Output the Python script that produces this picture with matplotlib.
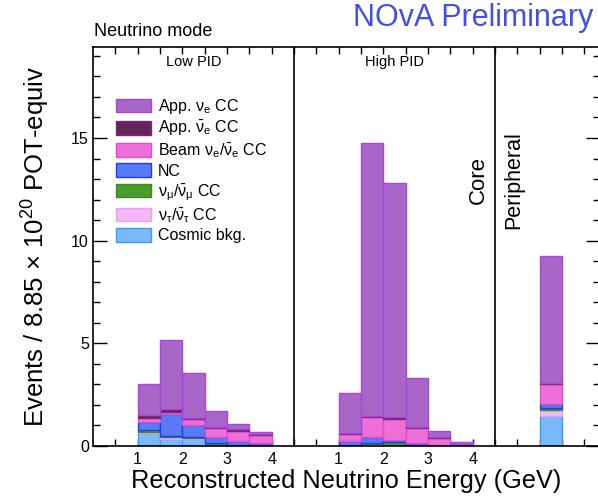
import matplotlib
matplotlib.use("Agg")
import matplotlib.pyplot as plt
import numpy as np

plt.rcParams["font.family"] = ["Liberation Sans", "DejaVu Sans"]
plt.rcParams["mathtext.fontset"] = "custom"
plt.rcParams["mathtext.rm"] = "Liberation Sans"
plt.rcParams["mathtext.it"] = "Liberation Sans"
plt.rcParams["mathtext.default"] = "regular"

# bin low edges (GeV) within each panel, bin width 0.5 GeV
pid_bin_lo = [1.0, 1.5, 2.0, 2.5, 3.0, 3.5]
periph_bin_lo = [1.0]
bin_width = 0.5

# panel offsets on the shared x axis
panel_offsets = [0.0, 4.5, 9.0]
panel_names = ["Low PID", "High PID"]

# stacked components, bottom -> top; values: 6 low PID, 6 high PID, 1 peripheral
cosmic = [0.62, 0.33, 0.32, 0.05, 0.04, 0.02,
          0.01, 0.02, 0.03, 0.01, 0.01, 0.00,
          1.46]
nutau = [0.06, 0.09, 0.05, 0.00, 0.00, 0.00,
         0.01, 0.10, 0.02, 0.01, 0.00, 0.00,
         0.30]
numu = [0.08, 0.07, 0.05, 0.08, 0.02, 0.01,
        0.02, 0.02, 0.16, 0.02, 0.00, 0.00,
        0.10]
nc = [0.40, 1.05, 0.58, 0.29, 0.17, 0.12,
      0.18, 0.28, 0.06, 0.09, 0.02, 0.00,
      0.20]
beam_nue = [0.22, 0.14, 0.32, 0.44, 0.52, 0.39,
            0.35, 1.00, 1.05, 0.75, 0.38, 0.09,
            0.97]
app_nuebar = [0.12, 0.12, 0.06, 0.05, 0.06, 0.03,
              0.05, 0.06, 0.07, 0.06, 0.01, 0.02,
              0.02]
app_nue = [1.50, 3.36, 2.19, 0.81, 0.24, 0.13,
           1.95, 13.29, 11.43, 2.39, 0.33, 0.10,
           6.22]

components = [
    ("Cosmic bkg.", cosmic, "#7cb9fb", "#3d9bf5"),
    (r"$\nu_\tau/\bar{\nu}_\tau$ CC", nutau, "#f3b9f6", "#ec9ff0"),
    (r"$\nu_\mu/\bar{\nu}_\mu$ CC", numu, "#4d9a31", "#3a8a1f"),
    ("NC", nc, "#587af5", "#1f3cf0"),
    (r"Beam $\nu_e/\bar{\nu}_e$ CC", beam_nue, "#ed6fd8", "#e54bcb"),
    (r"App. $\bar{\nu}_e$ CC", app_nuebar, "#66245e", "#7a2a70"),
    (r"App. $\nu_e$ CC", app_nue, "#a766c8", "#a745dc"),
]

x_lo = np.array(
    [panel_offsets[0] + e for e in pid_bin_lo]
    + [panel_offsets[1] + e for e in pid_bin_lo]
    + [panel_offsets[2] + e for e in periph_bin_lo]
)

fig = plt.figure(figsize=(5.98, 4.96), dpi=100)
ax = fig.add_axes([93 / 598, 1 - 446 / 496, 507 / 598, 399 / 496])

bottom = np.zeros(len(x_lo))
handles = {}
for label, vals, face, edge in components:
    vals = np.array(vals)
    h = ax.bar(x_lo, vals, width=bin_width, bottom=bottom, align="edge",
               facecolor=face, edgecolor=edge, linewidth=1.0, label=label,
               zorder=2)
    handles[label] = h
    bottom += vals

ax.set_xlim(0, 11.35)
ax.set_ylim(0, 19.43)

# panel separators
for xs in panel_offsets[1:]:
    ax.axvline(xs, color="black", linewidth=1.2, zorder=4)

# ticks
xt = np.arange(0.5, 11.01, 0.5)
ax.set_xticks(xt)
labels = []
for v in xt:
    lab = ""
    for off in panel_offsets[:2]:
        r = v - off
        if r in (1.0, 2.0, 3.0, 4.0):
            lab = f"{int(r)}"
    labels.append(lab)
ax.set_xticklabels(labels, fontsize=11.5)
ax.set_yticks([0, 5, 10, 15])
ax.set_yticks(np.arange(0, 19.5, 1), minor=True)
ax.tick_params(axis="y", which="major", direction="in", length=10, width=1,
               left=True, right=True, labelsize=11.5, pad=3)
ax.tick_params(axis="y", which="minor", direction="in", length=5, width=1,
               left=True, right=True)
ax.tick_params(axis="x", which="major", direction="in", length=5, width=1,
               top=True, bottom=True, pad=4)
for s in ax.spines.values():
    s.set_linewidth(1.2)

ax.set_xlabel("Reconstructed Neutrino Energy (GeV)", fontsize=18.3, labelpad=2)
ax.set_ylabel(r"Events / 8.85 $\times$ 10$^{20}$ POT-equiv", fontsize=18.5,
              labelpad=14)

for name, off in zip(panel_names, panel_offsets):
    ax.text(off + 2.25, 18.7, name, ha="center", va="center", fontsize=10.5)

ax.text(8.62, 12.95, "Core", rotation=90, ha="center", va="center", fontsize=16)
ax.text(9.42, 12.95, "Peripheral", rotation=90, ha="center", va="center",
        fontsize=15.5)

fig.text(94 / 598, 1 - 32 / 496, "Neutrino mode", ha="left", va="center",
         fontsize=13)
fig.text(353 / 598, 1 - 18 / 496, "NOvA Preliminary", ha="left", va="center",
         fontsize=22, color="#4050f0")

order = [c[0] for c in components][::-1]
ax.legend([handles[k] for k in order], order,
          loc="upper left", bbox_to_anchor=(116 / 598, 1 - 97 / 496),
          bbox_transform=fig.transFigure, frameon=False, fontsize=11.5,
          handlelength=2.2, handleheight=0.95, labelspacing=0.2,
          handletextpad=0.4, borderpad=0, borderaxespad=0)

fig.savefig("out.png", dpi=100, facecolor="white")
